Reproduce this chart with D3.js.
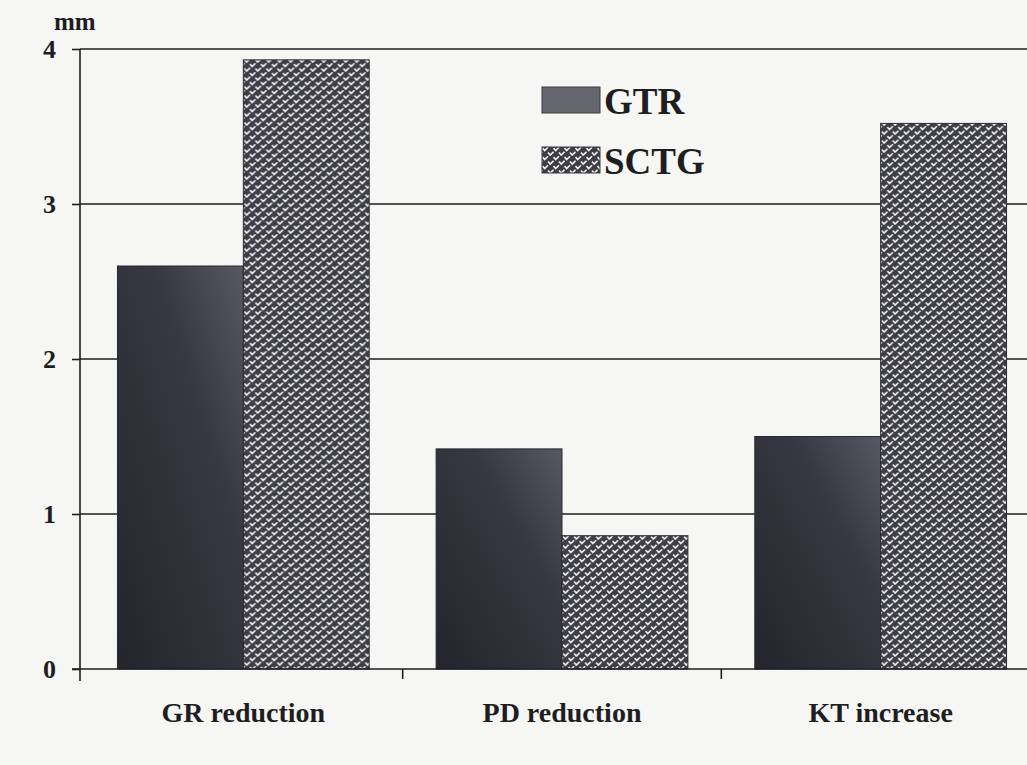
<!DOCTYPE html>
<html>
<head>
<meta charset="utf-8">
<script src="https://cdn.jsdelivr.net/npm/d3@7"></script>
<style>
  body { margin: 0; background: #f6f6f4; }
  svg { display: block; }
</style>
</head>
<body>
<div class="container"></div>
<script>
'use strict';

// Chart values
const categories = ["GR reduction", "PD reduction", "KT increase"];
const seriesNames = ["GTR", "SCTG"];
const gtrValues = [2.6, 1.42, 1.5];
const sctgValues = [3.93, 0.86, 3.52];
const yTicks = [0, 1, 2, 3, 4];
const yUnit = "mm";

const width = 1027;
const height = 765;
const serif = '"Liberation Serif", "DejaVu Serif", "Times New Roman", serif';
const ink = "#1e1e22";

const svg = d3.select("div.container").append("svg")
    .attr("width", width)
    .attr("height", height)
    .style("background", "#f6f6f4");

const defs = svg.append("defs");

// dark shaded fill for GTR bars
const grad = defs.append("linearGradient")
    .attr("id", "gtrFill")
    .attr("x1", "0").attr("y1", "1")
    .attr("x2", "1").attr("y2", "0");
grad.append("stop").attr("offset", "0").attr("stop-color", "#24242c");
grad.append("stop").attr("offset", "0.65").attr("stop-color", "#383842");
grad.append("stop").attr("offset", "1").attr("stop-color", "#585862");

// woven check-mark texture for SCTG bars
const pat = defs.append("pattern")
    .attr("id", "sctgFill")
    .attr("patternUnits", "userSpaceOnUse")
    .attr("width", 11)
    .attr("height", 9);
pat.append("rect").attr("width", 11).attr("height", 9).attr("fill", "#3e3e46");
pat.append("path")
    .attr("d", "M0.5,1 L2.7,3.6 L6,0.3 M6,5.5 L8.2,8.1 L11.5,4.8 M-5,5.5 L-2.8,8.1 L0.5,4.8")
    .attr("fill", "none")
    .attr("stroke", "#f0f0f0")
    .attr("stroke-width", 1.6);

const x0 = 80;

// Scales
const x = d3.scaleBand()
    .domain(categories)
    .range([x0 + 4, 1040])
    .paddingInner(0.21)
    .paddingOuter(0.105);

const xs = d3.scaleBand()
    .domain(seriesNames)
    .range([0, x.bandwidth()]);

const y = d3.scaleLinear()
    .domain([0, 4])
    .range([669, 49]);

// gridlines
svg.append("g")
    .selectAll("line")
    .data(yTicks.filter(d => d > 0))
    .join("line")
    .attr("x1", x0)
    .attr("x2", width)
    .attr("y1", d => y(d))
    .attr("y2", d => y(d))
    .attr("stroke", ink)
    .attr("stroke-width", 1.6);

// Bars
const rows = categories.map((c, i) => ({cat: c, values: [
    {key: "GTR", value: gtrValues[i]},
    {key: "SCTG", value: sctgValues[i]}
]}));

const groups = svg.append("g")
    .selectAll("g")
    .data(rows)
    .join("g")
    .attr("transform", d => "translate(" + x(d.cat) + ",0)");

groups.selectAll("rect")
    .data(d => d.values)
    .join("rect")
    .attr("x", d => xs(d.key))
    .attr("width", xs.bandwidth())
    .attr("y", d => y(d.value))
    .attr("height", d => y(0) - y(d.value))
    .attr("fill", d => d.key === "GTR" ? "url(#gtrFill)" : "url(#sctgFill)")
    .attr("stroke", "#2a2a30")
    .attr("stroke-width", 1);

// Y axis
const yAxis = svg.append("g")
    .attr("transform", "translate(" + x0 + ",0)")
    .call(d3.axisLeft(y).tickValues(yTicks).tickSizeInner(8).tickSizeOuter(0).tickPadding(16).tickFormat(d3.format("d")));
yAxis.select(".domain").remove();
yAxis.selectAll(".tick line").attr("stroke", ink).attr("stroke-width", 1.6);
yAxis.selectAll(".tick text")
    .style("font-family", serif)
    .style("font-weight", "bold")
    .style("font-size", "26px")
    .attr("fill", ink);

svg.append("line")
    .attr("x1", x0).attr("x2", x0)
    .attr("y1", y(4))
    .attr("y2", y(0) + 12)
    .attr("stroke", ink)
    .attr("stroke-width", 1.6);

svg.append("text")
    .attr("x", 54)
    .attr("y", 30)
    .style("font-family", serif)
    .style("font-weight", "bold")
    .style("font-size", "25px")
    .attr("fill", ink)
    .text(yUnit);

// X axis: baseline, ticks between groups, category labels
svg.append("line")
    .attr("x1", x0 - 8).attr("x2", width)
    .attr("y1", y(0)).attr("y2", y(0))
    .attr("stroke", ink)
    .attr("stroke-width", 1.6);

const step = x.step();
svg.append("g")
    .selectAll("line")
    .data(categories.slice(1))
    .join("line")
    .attr("x1", d => x(d) - step * x.paddingInner() / 2)
    .attr("x2", d => x(d) - step * x.paddingInner() / 2)
    .attr("y1", y(0))
    .attr("y2", y(0) + 10)
    .attr("stroke", ink)
    .attr("stroke-width", 1.6);

const xAxis = svg.append("g")
    .attr("transform", "translate(0," + y(0) + ")")
    .call(d3.axisBottom(x).tickSize(0).tickPadding(33));
xAxis.select(".domain").remove();
xAxis.selectAll(".tick text")
    .style("font-family", serif)
    .style("font-weight", "bold")
    .style("font-size", "28px")
    .attr("fill", ink);

// Legend
const legend = svg.append("g")
    .attr("transform", "translate(542,87)");

const legendItems = legend.selectAll("g")
    .data(seriesNames)
    .join("g")
    .attr("transform", (d, i) => "translate(0," + i * 60 + ")");

legendItems.append("rect")
    .attr("width", 58)
    .attr("height", 26)
    .attr("fill", d => d === "GTR" ? "#66666e" : "url(#sctgFill)")
    .attr("stroke", "#3a3a40")
    .attr("stroke-width", 1);

legendItems.append("text")
    .attr("x", 62)
    .attr("y", 27)
    .style("font-family", serif)
    .style("font-weight", "bold")
    .style("font-size", "37px")
    .attr("fill", ink)
    .text(d => d);
</script>
</body>
</html>
